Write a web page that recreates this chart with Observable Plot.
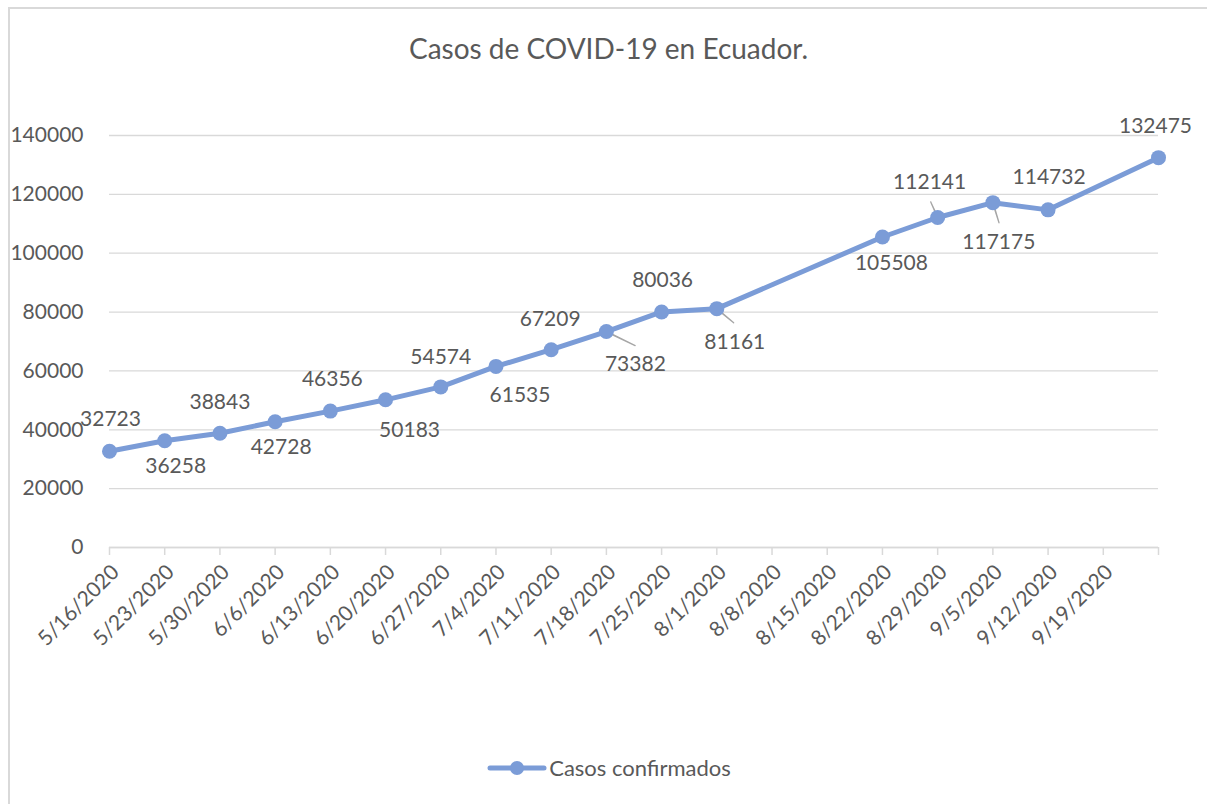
<!DOCTYPE html>
<html>
<head>
<meta charset="utf-8">
<script src="https://cdn.jsdelivr.net/npm/d3@7"></script>
<script src="https://cdn.jsdelivr.net/npm/@observablehq/plot@0.6"></script>
<style>
  body { margin: 0; background: #fff; font-family: Lato, "Open Sans", sans-serif; }
  #frame { position: absolute; left: 8px; top: 7px; width: 1199px; height: 797px;
           border-left: 2px solid #d9d9d9; border-top: 2px solid #d9d9d9; box-sizing: border-box; }
  #title { position: absolute; top: 31px; left: 0; width: 1217px; text-align: center;
           font-size: 28px; color: #595959; line-height: 34px; }
  #chart { position: absolute; left: 0; top: 90px; }
  #legend { position: absolute; top: 754px; left: 0; width: 1218px; display: flex;
            justify-content: center; align-items: center; font-size: 22px; color: #595959; }
</style>
</head>
<body>
<div id="frame"></div>
<div id="title">Casos de COVID-19 en Ecuador.</div>
<div id="chart"></div>
<div id="legend"></div>
<script>
// ---- data ----
const seriesName = "Casos confirmados";
const dates = ["2020-05-16","2020-05-23","2020-05-30","2020-06-06","2020-06-13","2020-06-20",
  "2020-06-27","2020-07-04","2020-07-11","2020-07-18","2020-07-25","2020-08-01",
  "2020-08-22","2020-08-29","2020-09-05","2020-09-12","2020-09-26"];
const cases = [32723,36258,38843,42728,46356,50183,54574,61535,67209,73382,80036,81161,
  105508,112141,117175,114732,132475];
const tickDates = ["2020-05-16","2020-05-23","2020-05-30","2020-06-06","2020-06-13","2020-06-20",
  "2020-06-27","2020-07-04","2020-07-11","2020-07-18","2020-07-25","2020-08-01","2020-08-08",
  "2020-08-15","2020-08-22","2020-08-29","2020-09-05","2020-09-12","2020-09-19","2020-09-26"];
const tickLabels = ["5/16/2020","5/23/2020","5/30/2020","6/6/2020","6/13/2020","6/20/2020",
  "6/27/2020","7/4/2020","7/11/2020","7/18/2020","7/25/2020","8/1/2020","8/8/2020",
  "8/15/2020","8/22/2020","8/29/2020","9/5/2020","9/12/2020","9/19/2020",""];
const yTicks = [0,20000,40000,60000,80000,100000,120000,140000];

// ---- label placement (styling, pixels) ----
const labelDx = [1,11,0,6,2,24,0,24,-1,29,1,18,9,-8,6,1,-3];
const labelDy = [-32,25,-31,26,-32,30,-30,29,-30,33,-32,34,26,-35,40,-33,-31];
const leaderIdx = [9,11,13,14];
const leaderLen = [32,22,17,21];
const leaderRot = [116,130,-24,163];

const parse = d3.utcParse("%Y-%m-%d");
const data = dates.map((d, i) => ({date: parse(d), value: cases[i], dx: labelDx[i], dy: labelDy[i]}));
const ticks = tickDates.map(parse);
const tickLabelMap = new Map(ticks.map((t, i) => [+t, tickLabels[i]]));
const leaders = leaderIdx.map((k, i) => ({date: data[k].date, value: data[k].value, len: leaderLen[i], rot: leaderRot[i]}));

const color = "#7b9cd7";
const textColor = "#595959";

const chart = Plot.plot({
  width: 1207,
  height: 620,
  marginLeft: 109,
  marginRight: 49,
  marginTop: 45,
  marginBottom: 163,
  style: {fontFamily: "Lato, 'Open Sans', sans-serif", fontSize: "21px", color: textColor, background: "transparent", overflow: "visible"},
  x: {type: "utc", domain: [ticks[0], ticks[ticks.length - 1]]},
  y: {domain: [0, 140000]},
  length: {type: "identity"},
  marks: [
    Plot.gridY(yTicks, {stroke: "#d9d9d9", strokeOpacity: 1, strokeWidth: 1.3}),
    Plot.ruleY([0], {stroke: "#d9d9d9", strokeWidth: 1.5}),
    Plot.axisY(yTicks, {tickSize: 0, tickPadding: 26, tickFormat: d => String(d), fill: textColor, fontSize: 21, label: null}),
    Plot.axisX(ticks, {tickSize: 8, stroke: "#d9d9d9", strokeWidth: 1.5, tickFormat: () => "", label: null}),
    Plot.axisX(ticks, {tickSize: 0, tickRotate: -45, tickPadding: 12,
      tickFormat: d => tickLabelMap.get(+d), fill: textColor, fontSize: 21, label: null, dx: 6, dy: 9}),
    Plot.vector(leaders, {x: "date", y: "value", length: "len", rotate: "rot", anchor: "start",
      shape: "spike", r: 0.3, fill: "#a6a6a6", stroke: "#a6a6a6", strokeWidth: 1.3}),
    Plot.line(data, {x: "date", y: "value", stroke: color, strokeWidth: 5, strokeLinejoin: "round"}),
    Plot.dot(data, {x: "date", y: "value", r: 7.5, fill: color, stroke: "none"}),
    ...data.map(d => Plot.text([d], {x: "date", y: "value", text: v => String(v.value),
      dx: d.dx, dy: d.dy, fill: textColor, fontSize: 21}))
  ]
});
document.getElementById("chart").appendChild(chart);

// legend
const leg = d3.select("#legend");
const sw = leg.append("svg").attr("width", 60).attr("height", 20).style("margin-right", "2px");
sw.append("line").attr("x1", 3).attr("x2", 57).attr("y1", 10).attr("y2", 10)
  .attr("stroke", color).attr("stroke-width", 5).attr("stroke-linecap", "round");
sw.append("circle").attr("cx", 30).attr("cy", 10).attr("r", 7).attr("fill", color);
leg.append("span").text(seriesName);
</script>
</body>
</html>
